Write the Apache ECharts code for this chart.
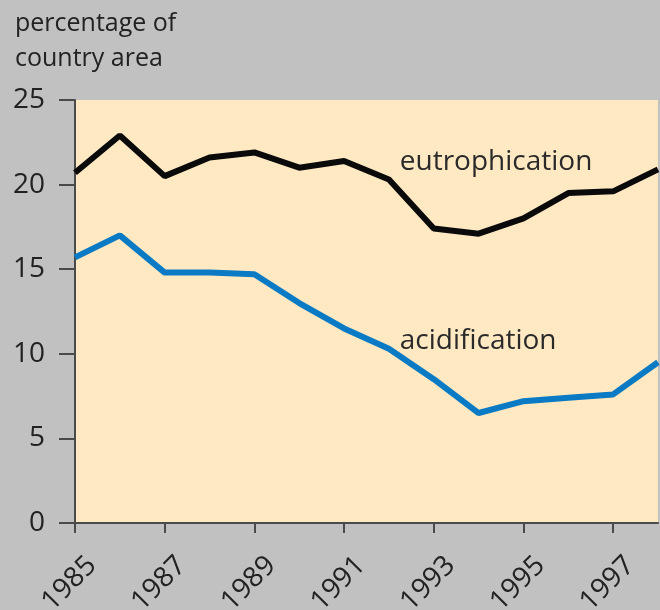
<!DOCTYPE html>
<html>
<head>
<meta charset="utf-8">
<script src="https://cdn.jsdelivr.net/npm/echarts@6/dist/echarts.min.js"></script>
<style>
  html, body { margin: 0; padding: 0; background: #c1c1c1; }
  #chart { width: 660px; height: 610px; }
</style>
</head>
<body>
<div id="chart"></div>
<script>
const years = ['1985', '1986', '1987', '1988', '1989', '1990', '1991',
  '1992', '1993', '1994', '1995', '1996', '1997', '1998'];
const eutrophication = [20.7, 22.9, 20.5, 21.6, 21.9, 21.0, 21.4, 20.3, 17.4, 17.1, 18.0, 19.5, 19.6, 20.9];
const acidification = [15.7, 17.0, 14.8, 14.8, 14.7, 13.0, 11.5, 10.3, 8.5, 6.5, 7.2, 7.4, 7.6, 9.5];
const yTicks = [0, 5, 10, 15, 20, 25];

const FONT = '"Open Sans", "Noto Sans", sans-serif';
const labelIndex = 8; // series name sits above 1993

function withLabel(values, name, offset) {
  return values.map((v, i) => {
    if (i !== labelIndex) return v;
    return {
      value: v,
      label: {
        show: true,
        formatter: name,
        position: 'top',
        align: 'left',
        verticalAlign: 'middle',
        offset: offset,
        fontFamily: FONT,
        fontSize: 28,
        color: '#2a2a2a'
      }
    };
  });
}

const chart = echarts.init(document.getElementById('chart'));
chart.setOption({
  backgroundColor: '#c1c1c1',
  animation: false,
  title: {
    text: 'percentage of\ncountry area',
    left: 10,
    top: 1,
    textStyle: {
      fontFamily: FONT,
      fontSize: 25,
      fontWeight: 'normal',
      lineHeight: 35,
      color: '#222'
    }
  },
  grid: {
    left: 75,
    right: 2,
    top: 100,
    bottom: 87,
    containLabel: false,
    outerBoundsMode: 'none',
    show: true,
    backgroundColor: '#fee9c3',
    borderWidth: 0
  },
  xAxis: {
    type: 'category',
    data: years,
    boundaryGap: false,
    axisLine: { lineStyle: { color: '#4a4a4a', width: 2 } },
    axisTick: { alignWithLabel: true, length: 10, lineStyle: { color: '#4a4a4a', width: 2 } },
    axisLabel: {
      interval: 1,
      rotate: 45,
      align: 'right',
      verticalAlign: 'top',
      lineHeight: 48,
      margin: 21,
      fontFamily: FONT,
      fontSize: 28,
      color: '#222'
    },
    splitLine: { show: false }
  },
  yAxis: {
    type: 'value',
    min: yTicks[0],
    max: yTicks[yTicks.length - 1],
    interval: 5,
    axisLine: { show: true, lineStyle: { color: '#4a4a4a', width: 2 } },
    axisTick: { show: true, length: 16, lineStyle: { color: '#4a4a4a', width: 2 } },
    axisLabel: {
      margin: 30,
      fontFamily: FONT,
      fontSize: 28,
      color: '#222'
    },
    splitLine: { show: false }
  },
  series: [
    {
      name: 'eutrophication',
      type: 'line',
      data: withLabel(eutrophication, 'eutrophication', [-34, -62]),
      symbol: 'circle',
      symbolSize: 0,
      showSymbol: true,
      lineStyle: { color: '#0a0a0a', width: 6 },
      itemStyle: { color: '#0a0a0a' },
      z: 3
    },
    {
      name: 'acidification',
      type: 'line',
      data: withLabel(acidification, 'acidification', [-34, -33]),
      symbol: 'circle',
      symbolSize: 0,
      showSymbol: true,
      lineStyle: { color: '#0b7ac4', width: 6 },
      itemStyle: { color: '#0b7ac4' },
      z: 2
    }
  ]
});
</script>
</body>
</html>
